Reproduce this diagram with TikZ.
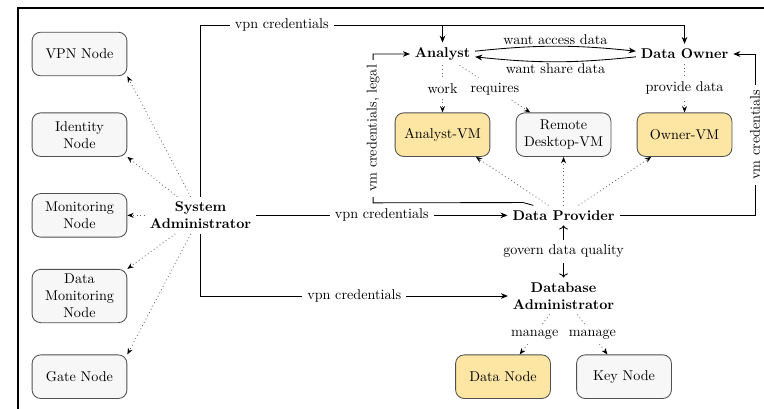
\documentclass[tikz,border=0pt]{standalone}
\usetikzlibrary{arrows.meta,calc}
\definecolor{boxgray}{HTML}{F7F7F7}
\definecolor{vmyellow}{HTML}{FDE6A4}
\definecolor{boxline}{HTML}{505050}
\begin{document}
\begin{tikzpicture}[
  box/.style={draw=boxline, line width=0.6pt, rounded corners=6pt, fill=boxgray,
    minimum width=2.35cm, minimum height=1.08cm, align=center},
  vm/.style={box, fill=vmyellow},
  actor/.style={font=\bfseries, align=center},
  dots/.style={dotted, draw=black!60, line width=0.6pt,
    -{Stealth[length=4.5pt,width=3.5pt,black]}},
  conn/.style={semithick, -{Stealth[length=5pt,width=4pt]}},
  lbl/.style={fill=white, inner sep=3.5pt},
]
\useasboundingbox (-1.971,-8.80) rectangle (16.97,1.339);
% frame
\draw[line width=0.9pt] (-1.525,-8.80) -- (-1.525,1.14) -- (16.97,1.14);

% infrastructure nodes
\node[box] (vpn)  at (0,0)  {VPN Node};
\node[box] (id)   at (0,-2) {Identity\\Node};
\node[box] (mon)  at (0,-4) {Monitoring\\Node};
\node[box] (dmon) at (0,-6) {Data\\Monitoring\\Node};
\node[box] (gate) at (0,-8) {Gate Node};

% roles
\node[actor] (sa)  at (3,-4)  {System\\Administrator};
\node[actor] (an)  at (9,0)   {Analyst};
\node[actor] (do)  at (15,0)  {Data Owner};
\node[actor] (dp)  at (12,-4) {Data Provider};
\node[actor] (dba) at (12,-6) {Database\\Administrator};

% virtual machines and storage
\node[vm]  (avm) at (9,-2)    {Analyst-VM};
\node[box] (rd)  at (12,-2)   {Remote\\Desktop-VM};
\node[vm]  (ovm) at (15,-2)   {Owner-VM};
\node[vm]  (dn)  at (10.5,-8) {Data Node};
\node[box] (kn)  at (13.5,-8) {Key Node};

% administrator manages the infrastructure
\draw[dots] (sa) -- (vpn.south east);
\draw[dots] (sa) -- (id.south east);
\draw[dots] (sa) -- (mon.east);
\draw[dots] (sa) -- (dmon.north east);
\draw[dots] (sa) -- (gate.north east);

% usage relations
\draw[dots] (an) -- node[lbl]{work} (avm);
\draw[dots] (an) -- node[lbl]{requires} (rd);
\draw[dots] (do) -- node[lbl]{provide data} (ovm);
\draw[dots] (dp) -- (avm);
\draw[dots] (dp) -- (rd);
\draw[dots] (dp) -- (ovm);
\draw[dots] (dba) -- node[lbl]{manage} (dn);
\draw[dots] (dba) -- node[lbl]{manage} (kn);

% analyst and owner exchange
\draw[conn] ([yshift=2pt]an.east) to[bend left=6]
  node[above, inner sep=1pt]{want access data} ([yshift=2pt]do.west);
\draw[conn] ([yshift=-2pt]do.west) to[bend left=6]
  node[below, inner sep=1pt]{want share data} ([yshift=-2pt]an.east);

% vpn credentials
\coordinate (vtop) at (15,0.72);
\draw[conn] (sa) |- node[lbl, pos=0.584]{vpn credentials} (vtop) -- (do);
\draw[conn] (an |- vtop) -- (an);
\draw[conn] (sa) -- node[lbl]{vpn credentials} (dp);
\draw[conn] (sa) |- node[lbl, pos=0.75]{vpn credentials} (dba);

% vm credentials
\coordinate (vl) at (7.28,-3.69);
\draw[conn] ([xshift=-0.75cm]dp.north) -- ++(-0.25,0.07) -- (vl)
  |- node[lbl, pos=0.25, sloped]{vm credentials, legal} (an);
\coordinate (vr) at (16.75,-4);
\draw[conn] (dp) -- (vr)
  |- node[lbl, pos=0.25, sloped]{vm credentials} (do);

% data governance
\draw[semithick, <->] (dp) -- node[lbl]{govern data quality} (dba);
\end{tikzpicture}
\end{document}
